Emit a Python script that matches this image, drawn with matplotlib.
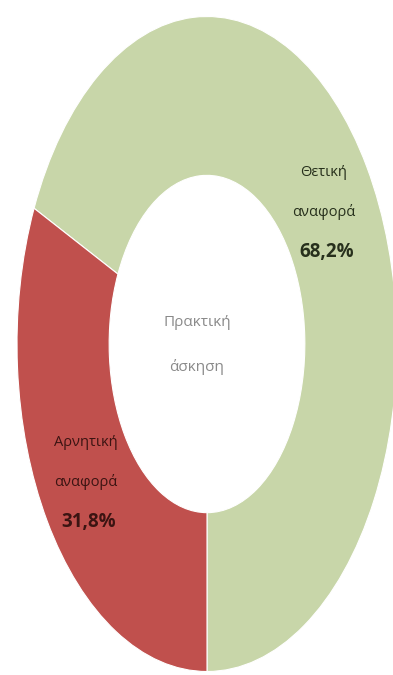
import matplotlib.pyplot as plt

plt.rcParams['font.family'] = ['Open Sans', 'DejaVu Sans']

labels = [['Θετική', 'αναφορά'], ['Αρνητική', 'αναφορά']]
shares = [68.2, 31.8]
colors = ['#c8d6a9', '#c0504d']
title = ['Πρακτική', 'άσκηση']

W, H = 393, 675
fig = plt.figure(figsize=(W / 100, H / 100), dpi=100)

# ring centre and radii in pixels; the ring is stretched taller than wide
cx, cy, rx, ry = 207, 344, 190, 327.5
ax = fig.add_axes([(cx - rx) / W, (H - cy - ry) / H, 2 * rx / W, 2 * ry / H])

ax.pie(shares, colors=colors, startangle=-90, counterclock=True, radius=1,
       wedgeprops=dict(width=0.485, edgecolor='white', linewidth=0.8))
ax.set_aspect('auto')
ax.set_xlim(-1, 1)
ax.set_ylim(-1, 1)
ax.axis('off')


def px(x, y):
    return (x - cx) / rx, (cy - y) / ry


# segment labels: two name lines and the share, one line every 40 px
for (x, y), lab, val, tc in [((324, 172), labels[0], shares[0], '#27301c'),
                             ((86, 442), labels[1], shares[1], '#3b1412')]:
    for i, line in enumerate(lab):
        ax.text(*px(x, y + 40 * i), line, ha='center', va='center',
                fontsize=10.5, color=tc)
    ax.text(*px(x + 3, y + 80), f'{val:.1f}%'.replace('.', ','),
            ha='center', va='center', fontsize=13.5, fontweight='bold',
            color=tc)

for i, line in enumerate(title):
    ax.text(*px(cx - 10, 322 + 45 * i), line, ha='center', va='center',
            fontsize=11, color='#8a8a8a')

fig.savefig('out.png', dpi=100)
